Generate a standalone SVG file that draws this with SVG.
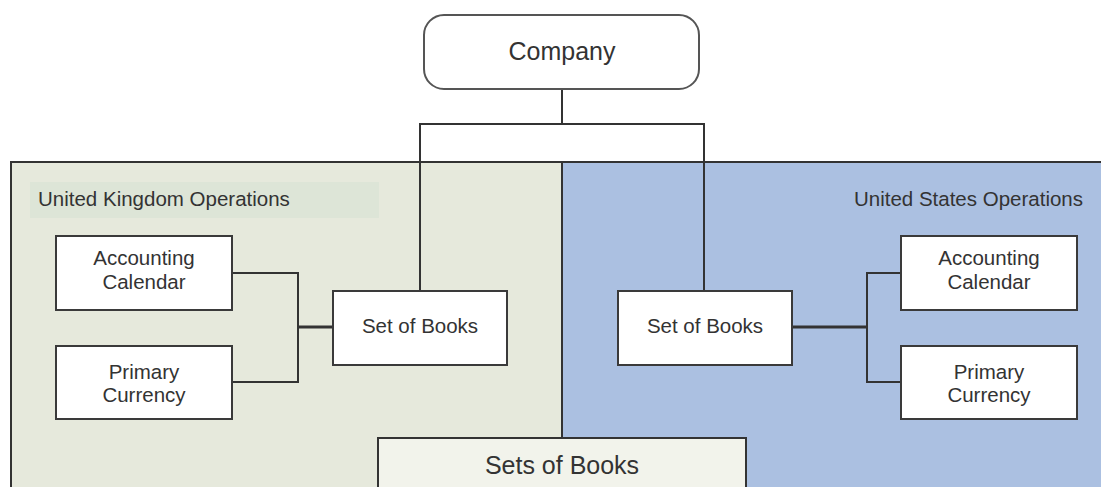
<svg xmlns="http://www.w3.org/2000/svg" width="1101" height="487" viewBox="0 0 1101 487">
<style>
.box{fill:#ffffff;stroke:#3a3a3a;stroke-width:2}
.ln{fill:none;stroke:#333333;stroke-width:2}
.thick{fill:none;stroke:#333333;stroke-width:3}
.t{font-family:"Liberation Sans",Arial,sans-serif;font-size:20.5px;fill:#333333;text-anchor:middle}
.lbl{font-family:"Liberation Sans",Arial,sans-serif;font-size:20.5px;fill:#333333}
</style>
<g id="uk-region">
<rect x="11" y="162" width="551" height="340" fill="#e6e9dc" stroke="#333333" stroke-width="2"/>
<rect x="30" y="182" width="349" height="36" fill="#dde5d7"/>
<text class="lbl" x="38" y="206">United Kingdom Operations</text>
</g>
<g id="us-region">
<rect x="562" y="162" width="545" height="340" fill="#abc0e1" stroke="#333333" stroke-width="2"/>
<text class="lbl" x="1083" y="206" text-anchor="end">United States Operations</text>
</g>
<g id="connectors">
<path class="ln" d="M562 89 V124 M420 291 V124 H704 V291"/>
<path class="ln" d="M232 273 H298 V382 H232"/>
<path class="thick" d="M298 327 H333"/>
<path class="thick" d="M792 327 H867"/>
<path class="ln" d="M901 273 H867 V382 H901"/>
</g>
<g id="company">
<rect x="424" y="15" width="275" height="74" rx="20" ry="20" fill="#ffffff" stroke="#555555" stroke-width="2"/>
<text class="t" x="562" y="60" style="font-size:25px">Company</text>
</g>
<g id="uk-calendar">
<rect class="box" x="56" y="236" width="176" height="74"/>
<text class="t" x="144" y="265">Accounting</text>
<text class="t" x="144" y="289">Calendar</text>
</g>
<g id="uk-currency">
<rect class="box" x="56" y="346" width="176" height="73"/>
<text class="t" x="144" y="379">Primary</text>
<text class="t" x="144" y="402">Currency</text>
</g>
<g id="uk-sob">
<rect class="box" x="333" y="291" width="174" height="74"/>
<text class="t" x="420" y="333">Set of Books</text>
</g>
<g id="us-sob">
<rect class="box" x="618" y="291" width="174" height="74"/>
<text class="t" x="705" y="333">Set of Books</text>
</g>
<g id="us-calendar">
<rect class="box" x="901" y="236" width="176" height="74"/>
<text class="t" x="989" y="265">Accounting</text>
<text class="t" x="989" y="289">Calendar</text>
</g>
<g id="us-currency">
<rect class="box" x="901" y="346" width="176" height="73"/>
<text class="t" x="989" y="379">Primary</text>
<text class="t" x="989" y="402">Currency</text>
</g>
<g id="sets-of-books">
<rect x="378" y="438" width="368" height="70" fill="#f2f3eb" stroke="#333333" stroke-width="2"/>
<text class="t" x="562" y="474" style="font-size:25px">Sets of Books</text>
</g>
</svg>
